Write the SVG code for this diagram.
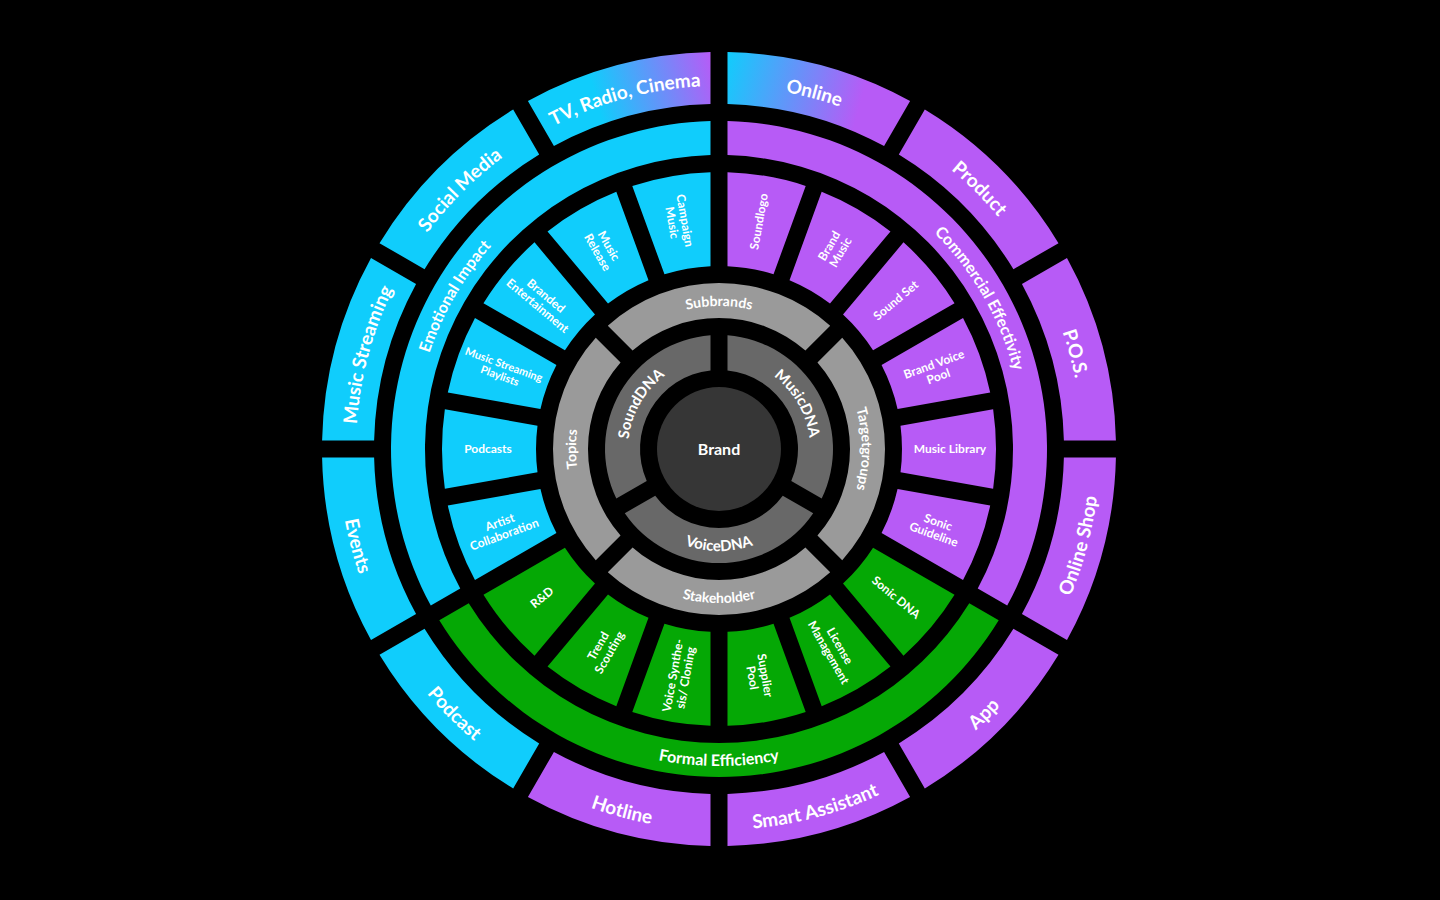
<svg xmlns="http://www.w3.org/2000/svg" width="1440" height="900" viewBox="0 0 1440 900">
<defs>
<style>
text { font-family: Lato, "Open Sans", "Liberation Sans", sans-serif; font-weight: 700; fill: #ffffff; text-anchor: middle; }
.t6 { font-size: 19px; }
.t5 { font-size: 16px; }
.t4 { font-size: 12px; }
.t4s { font-size: 11px; }
.t3 { font-size: 14px; }
.t2 { font-size: 15px; }
.tb { font-size: 16px; }
.cy { fill: #10cdfc; }
.pu { fill: #b75bf6; }
.gr { fill: #05a805; }
.g3 { fill: #9a9a9a; }
.g2 { fill: #686868; }
</style>
<linearGradient id="gTV" x1="0" y1="0" x2="1" y2="0">
<stop offset="0" stop-color="#10cdfc"/>
<stop offset="0.35" stop-color="#10cdfc"/>
<stop offset="1" stop-color="#b75bf6"/>
</linearGradient>
<linearGradient id="gOn" x1="0" y1="0" x2="1" y2="0">
<stop offset="0" stop-color="#10cdfc"/>
<stop offset="0.75" stop-color="#b75bf6"/>
<stop offset="1" stop-color="#b75bf6"/>
</linearGradient>
<path id="s6" d="M-94.52 -385.59A397 397 0 0 1 94.52 -385.59L81.05 -335.34A345 345 0 0 0 -81.05 -335.34Z"/>
<path id="s5" d="M-279.71 -171.30A328 328 0 0 1 279.71 -171.30L250.26 -154.30A294 294 0 0 0 -250.26 -154.30Z"/>
<path id="s4" d="M-39.71 -274.14A277 277 0 0 1 39.71 -274.14L23.37 -181.50A183 183 0 0 0 -23.37 -181.50Z"/>
<path id="s3" d="M-111.21 -123.24A166 166 0 0 1 111.21 -123.24L86.43 -98.45A131 131 0 0 0 -86.43 -98.45Z"/>
<path id="s2" d="M-94.20 -64.20A114 114 0 0 1 94.20 -64.20L63.77 -46.63A79 79 0 0 0 -63.77 -46.63Z"/>
<path id="a6cw" d="M-233.33 -278.07A363 363 0 0 1 233.33 -278.07"/>
<path id="a6ccw" d="M244.90 -291.86A381 381 0 0 0 -244.90 -291.86"/>
<path id="a5cw" d="M-286.61 -104.32A305 305 0 0 1 286.61 -104.32"/>
<path id="a5ccw" d="M297.88 -108.42A317 317 0 0 0 -297.88 -108.42"/>
<path id="a3cw" d="M-134.38 -48.91A143 143 0 0 1 134.38 -48.91"/>
<path id="a3ccw" d="M144.71 -52.67A154 154 0 0 0 -144.71 -52.67"/>
<path id="a2cw" d="M-89.62 -15.80A91 91 0 0 1 89.62 -15.80"/>
<path id="a2ccw" d="M100.45 -17.71A102 102 0 0 0 -100.45 -17.71"/>
</defs>
<rect x="0" y="0" width="1440" height="900" fill="#000000"/>

<g id="ring-channels">
<g id="tv-radio-cinema" transform="translate(719 449) rotate(-15)"><use href="#s6" fill="url(#gTV)"/><text class="t6"><textPath href="#a6cw" startOffset="50%">TV, Radio, Cinema</textPath></text></g>
<g id="online" transform="translate(719 449) rotate(15)"><use href="#s6" fill="url(#gOn)"/><text class="t6"><textPath href="#a6cw" startOffset="50%">Online</textPath></text></g>
<g id="product" transform="translate(719 449) rotate(45)"><use href="#s6" class="pu"/><text class="t6"><textPath href="#a6cw" startOffset="50%">Product</textPath></text></g>
<g id="pos" transform="translate(719 449) rotate(75)"><use href="#s6" class="pu"/><text class="t6"><textPath href="#a6cw" startOffset="50%">P.O.S.</textPath></text></g>
<g id="online-shop" transform="translate(719 449) rotate(105)"><use href="#s6" class="pu"/><text class="t6"><textPath href="#a6ccw" startOffset="50%">Online Shop</textPath></text></g>
<g id="app" transform="translate(719 449) rotate(135)"><use href="#s6" class="pu"/><text class="t6"><textPath href="#a6ccw" startOffset="50%">App</textPath></text></g>
<g id="smart-assistant" transform="translate(719 449) rotate(165)"><use href="#s6" class="pu"/><text class="t6"><textPath href="#a6ccw" startOffset="50%">Smart Assistant</textPath></text></g>
<g id="hotline" transform="translate(719 449) rotate(195)"><use href="#s6" class="pu"/><text class="t6"><textPath href="#a6ccw" startOffset="50%">Hotline</textPath></text></g>
<g id="podcast" transform="translate(719 449) rotate(225)"><use href="#s6" class="cy"/><text class="t6"><textPath href="#a6ccw" startOffset="50%">Podcast</textPath></text></g>
<g id="events" transform="translate(719 449) rotate(255)"><use href="#s6" class="cy"/><text class="t6"><textPath href="#a6ccw" startOffset="50%">Events</textPath></text></g>
<g id="music-streaming" transform="translate(719 449) rotate(285)"><use href="#s6" class="cy"/><text class="t6"><textPath href="#a6cw" startOffset="50%">Music Streaming</textPath></text></g>
<g id="social-media" transform="translate(719 449) rotate(315)"><use href="#s6" class="cy"/><text class="t6"><textPath href="#a6cw" startOffset="50%">Social Media</textPath></text></g>
</g>

<g id="ring-goals">
<g id="emotional-impact" transform="translate(719 449) rotate(300)"><use href="#s5" class="cy"/><text class="t5"><textPath href="#a5cw" startOffset="50%">Emotional Impact</textPath></text></g>
<g id="commercial-effectivity" transform="translate(719 449) rotate(60)"><use href="#s5" class="pu"/><text class="t5"><textPath href="#a5cw" startOffset="50%">Commercial Effectivity</textPath></text></g>
<g id="formal-efficiency" transform="translate(719 449) rotate(180)"><use href="#s5" class="gr"/><text class="t5"><textPath href="#a5ccw" startOffset="50%">Formal Efficiency</textPath></text></g>
</g>

<g id="ring-services">
<g id="campaign-music" transform="translate(719 449) rotate(350)"><use href="#s4" class="cy"/><text class="t4" transform="translate(0 -231) rotate(90)"><tspan x="0" y="-2">Campaign</tspan><tspan x="0" y="11">Music</tspan></text></g>
<g id="music-release" transform="translate(719 449) rotate(330)"><use href="#s4" class="cy"/><text class="t4" transform="translate(0 -231) rotate(90)"><tspan x="0" y="-2">Music</tspan><tspan x="0" y="11">Release</tspan></text></g>
<g id="branded-entertainment" transform="translate(719 449) rotate(310)"><use href="#s4" class="cy"/><text class="t4" transform="translate(0 -231) rotate(90)"><tspan x="0" y="-2">Branded</tspan><tspan x="0" y="11">Entertainment</tspan></text></g>
<g id="music-streaming-playlists" transform="translate(719 449) rotate(290)"><use href="#s4" class="cy"/><text class="t4s" transform="translate(0 -231) rotate(90)"><tspan x="0" y="-2">Music Streaming</tspan><tspan x="0" y="10">Playlists</tspan></text></g>
<g id="podcasts" transform="translate(719 449) rotate(270)"><use href="#s4" class="cy"/><text class="t4" transform="translate(0 -231) rotate(90)"><tspan x="0" y="4">Podcasts</tspan></text></g>
<g id="artist-collaboration" transform="translate(719 449) rotate(250)"><use href="#s4" class="cy"/><text class="t4" transform="translate(0 -231) rotate(90)"><tspan x="0" y="-2">Artist</tspan><tspan x="0" y="11">Collaboration</tspan></text></g>
<g id="rnd" transform="translate(719 449) rotate(230)"><use href="#s4" class="gr"/><text class="t4" transform="translate(0 -231) rotate(90)"><tspan x="0" y="4">R&amp;D</tspan></text></g>
<g id="trend-scouting" transform="translate(719 449) rotate(210)"><use href="#s4" class="gr"/><text class="t4" transform="translate(0 -231) rotate(90)"><tspan x="0" y="-2">Trend</tspan><tspan x="0" y="11">Scouting</tspan></text></g>
<g id="voice-synthesis" transform="translate(719 449) rotate(190)"><use href="#s4" class="gr"/><text class="t4" transform="translate(0 -231) rotate(90)"><tspan x="0" y="-2">Voice Synthe-</tspan><tspan x="0" y="11">sis/ Cloning</tspan></text></g>
<g id="supplier-pool" transform="translate(719 449) rotate(170)"><use href="#s4" class="gr"/><text class="t4" transform="translate(0 -231) rotate(-90)"><tspan x="0" y="-2">Supplier</tspan><tspan x="0" y="11">Pool</tspan></text></g>
<g id="license-management" transform="translate(719 449) rotate(150)"><use href="#s4" class="gr"/><text class="t4" transform="translate(0 -231) rotate(-90)"><tspan x="0" y="-2">License</tspan><tspan x="0" y="11">Management</tspan></text></g>
<g id="sonic-dna" transform="translate(719 449) rotate(130)"><use href="#s4" class="gr"/><text class="t4" transform="translate(0 -231) rotate(-90)"><tspan x="0" y="4">Sonic DNA</tspan></text></g>
<g id="sonic-guideline" transform="translate(719 449) rotate(110)"><use href="#s4" class="pu"/><text class="t4" transform="translate(0 -231) rotate(-90)"><tspan x="0" y="-2">Sonic</tspan><tspan x="0" y="11">Guideline</tspan></text></g>
<g id="music-library" transform="translate(719 449) rotate(90)"><use href="#s4" class="pu"/><text class="t4" transform="translate(0 -231) rotate(-90)"><tspan x="0" y="4">Music Library</tspan></text></g>
<g id="brand-voice-pool" transform="translate(719 449) rotate(70)"><use href="#s4" class="pu"/><text class="t4" transform="translate(0 -231) rotate(-90)"><tspan x="0" y="-2">Brand Voice</tspan><tspan x="0" y="11">Pool</tspan></text></g>
<g id="sound-set" transform="translate(719 449) rotate(50)"><use href="#s4" class="pu"/><text class="t4" transform="translate(0 -231) rotate(-90)"><tspan x="0" y="4">Sound Set</tspan></text></g>
<g id="brand-music" transform="translate(719 449) rotate(30)"><use href="#s4" class="pu"/><text class="t4" transform="translate(0 -231) rotate(-90)"><tspan x="0" y="-2">Brand</tspan><tspan x="0" y="11">Music</tspan></text></g>
<g id="soundlogo" transform="translate(719 449) rotate(10)"><use href="#s4" class="pu"/><text class="t4" transform="translate(0 -231) rotate(-90)"><tspan x="0" y="4">Soundlogo</tspan></text></g>
</g>

<g id="ring-audiences">
<g id="subbrands" transform="translate(719 449) rotate(0)"><use href="#s3" class="g3"/><text class="t3"><textPath href="#a3cw" startOffset="50%">Subbrands</textPath></text></g>
<g id="targetgroups" transform="translate(719 449) rotate(90)"><use href="#s3" class="g3"/><text class="t3"><textPath href="#a3cw" startOffset="50%">Targetgroups</textPath></text></g>
<g id="stakeholder" transform="translate(719 449) rotate(180)"><use href="#s3" class="g3"/><text class="t3"><textPath href="#a3ccw" startOffset="50%">Stakeholder</textPath></text></g>
<g id="topics" transform="translate(719 449) rotate(270)"><use href="#s3" class="g3"/><text class="t3"><textPath href="#a3cw" startOffset="50%">Topics</textPath></text></g>
</g>

<g id="ring-dna">
<g id="musicdna" transform="translate(719 449) rotate(60)"><use href="#s2" class="g2"/><text class="t2"><textPath href="#a2cw" startOffset="50%">MusicDNA</textPath></text></g>
<g id="voicedna" transform="translate(719 449) rotate(180)"><use href="#s2" class="g2"/><text class="t2"><textPath href="#a2ccw" startOffset="50%">VoiceDNA</textPath></text></g>
<g id="sounddna" transform="translate(719 449) rotate(300)"><use href="#s2" class="g2"/><text class="t2"><textPath href="#a2cw" startOffset="50%">SoundDNA</textPath></text></g>
</g>

<g id="brand">
<circle cx="719" cy="449" r="62" fill="#363636"/>
<text class="tb" x="719" y="455">Brand</text>
</g>
</svg>
